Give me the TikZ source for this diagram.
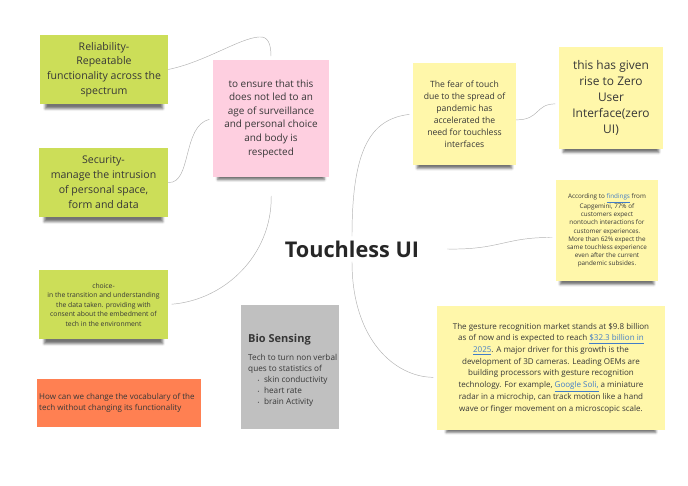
\documentclass[tikz,border=0pt]{standalone}
\usepackage{fontspec}
\setmainfont{Open Sans}
\usepackage{tikz}
\usetikzlibrary{positioning,shadows.blur}
\usepackage{xcolor}
\definecolor{stickgreen}{RGB}{204,222,88}
\definecolor{stickpink}{RGB}{254,207,224}
\definecolor{stickyellow}{RGB}{255,247,170}
\definecolor{stickorange}{RGB}{255,128,82}
\definecolor{stickgray}{RGB}{192,192,192}
\definecolor{notetext}{RGB}{55,55,55}
\definecolor{linkblue}{RGB}{66,125,200}
\newcommand{\lnk}[1]{\textcolor{linkblue}{\underline{#1}}}

\begin{document}
\begin{tikzpicture}[x=0.03cm,y=-0.03cm,
      note/.style={inner sep=0pt,align=center,text=notetext,
        blur shadow={shadow xshift=0pt,shadow yshift=-7pt,shadow scale=0.92,shadow opacity=55}},
      flat/.style={inner sep=0pt,align=left,text=notetext},
      link/.style={draw=gray!60,line width=0.4pt,shorten >=3pt}
    ]
    \useasboundingbox (0,0) rectangle (688,486);

    \node[note,fill=stickgreen,minimum width=3.84cm,minimum height=2.07cm,font=\fontsize{9}{12.5}\selectfont] (rel) at (104,69.5) {Reliability-\\ Repeatable\\ functionality across the\\ spectrum};
    \node[note,fill=stickgreen,minimum width=3.87cm,minimum height=2.07cm,font=\fontsize{9}{12.7}\selectfont] (sec) at (103.5,182.5) {Security-\\ manage the intrusion\\ of personal space,\\ form and data};
    \node[note,fill=stickgreen,minimum width=3.87cm,minimum height=2.07cm,font=\fontsize{5.8}{8.1}\selectfont] (cho) at (103.5,304.5) {choice-\\ in the transition and understanding\\ the data taken. providing with\\ consent about the embedment of\\ tech in the environment};
    \node[note,fill=stickpink,minimum width=3.48cm,minimum height=3.51cm,font=\fontsize{8.5}{11.6}\selectfont] (ens) at (271,118.5) {to ensure that this\\ does not led to an\\ age of surveillance\\ and personal choice\\ and body is\\ respected};

    \node[flat,fill=stickorange,minimum width=4.92cm,minimum height=1.44cm] (vocab) at (119,403) {};
    \node[flat,anchor=west,font=\fontsize{6.85}{9}\selectfont] (vocabtxt) at (39,403) {How can we change the vocabulary of the\\ tech without changing its functionality};

    \node[flat,fill=stickgray,minimum width=2.94cm,minimum height=3.72cm] (bio) at (290,367) {};
    \node[flat,anchor=north west,font=\fontsize{7}{9.4}\selectfont] (biotxt) at (248,333.5) {{\bfseries\fontsize{9.4}{11}\selectfont Bio Sensing}\\[6pt] Tech to turn non verbal\\ ques to statistics of\\ \hspace*{8pt}{\fontsize{4}{4}\selectfont\textbullet}\hspace{4pt}skin conductivity\\ \hspace*{8pt}{\fontsize{4}{4}\selectfont\textbullet}\hspace{4pt}heart rate\\ \hspace*{8pt}{\fontsize{4}{4}\selectfont\textbullet}\hspace{4pt}brain Activity};

    \node[inner sep=0pt,minimum width=5.7cm,minimum height=0.75cm,text=black!85,font=\bfseries\fontsize{18.5}{21}\selectfont] (root) at (352,249) {Touchless UI};

    \node[note,fill=stickyellow,minimum width=3.09cm,minimum height=3.06cm,font=\fontsize{7.35}{10.2}\selectfont] (fear) at (464.5,114) {The fear of touch\\ due to the spread of\\ pandemic has\\ accelerated the\\ need for touchless\\ interfaces};
    \node[note,fill=stickyellow,minimum width=3.12cm,minimum height=3.06cm,font=\fontsize{10.2}{13.6}\selectfont] (zero) at (611,98) {this has given\\ rise to Zero\\ User\\ Interface(zero\\ UI)};
    \node[note,fill=stickyellow,minimum width=3.06cm,minimum height=3.03cm,font=\fontsize{5.4}{6.9}\selectfont] (find) at (607,230.5) {According to \lnk{findings} from\\ Capgemini, 77\% of\\ customers expect\\ nontouch interactions for\\ customer experiences.\\ More than 62\% expect the\\ same touchless experience\\ even after the current\\ pandemic subsides.};
    \node[note,fill=stickyellow,minimum width=6.84cm,minimum height=3.72cm,font=\fontsize{6.85}{10}\selectfont] (gest) at (551,368) {The gesture recognition market stands at \$9.8 billion\\ as of now and is expected to reach \lnk{\$32.3 billion in}\\ \lnk{2025}. A major driver for this growth is the\\ development of 3D cameras. Leading OEMs are\\ building processors with gesture recognition\\ technology. For example, \lnk{Google Soli,} a miniature\\ radar in a microchip, can track motion like a hand\\ wave or finger movement on a microscopic scale.};

    % connectors
    \draw[link] (rel.east) .. controls (205,62) and (240,38) .. (259,37) .. controls (268,36) and (271,44) .. (ens.north);
    \draw[link] (sec.east) .. controls (192,184) and (182,126) .. (ens.west);
    \draw[link,shorten <=16pt] (ens.south) .. controls (272,255) and (225,300) .. (cho.east);
    \draw[link] (root.north) .. controls (352,150) and (370,119) .. (fear.west);
    \draw[link] (root.south) .. controls (352,340) and (395,377) .. ([yshift=-8pt]gest.west);
    \draw[link] (root.east) .. controls (500,250) and (505,237) .. ([yshift=-6pt]find.west);
    \draw[link] ([yshift=-5pt]fear.east) .. controls (540,120) and (535,104) .. ([yshift=-5pt]zero.west);
  \end{tikzpicture}
\end{document}
